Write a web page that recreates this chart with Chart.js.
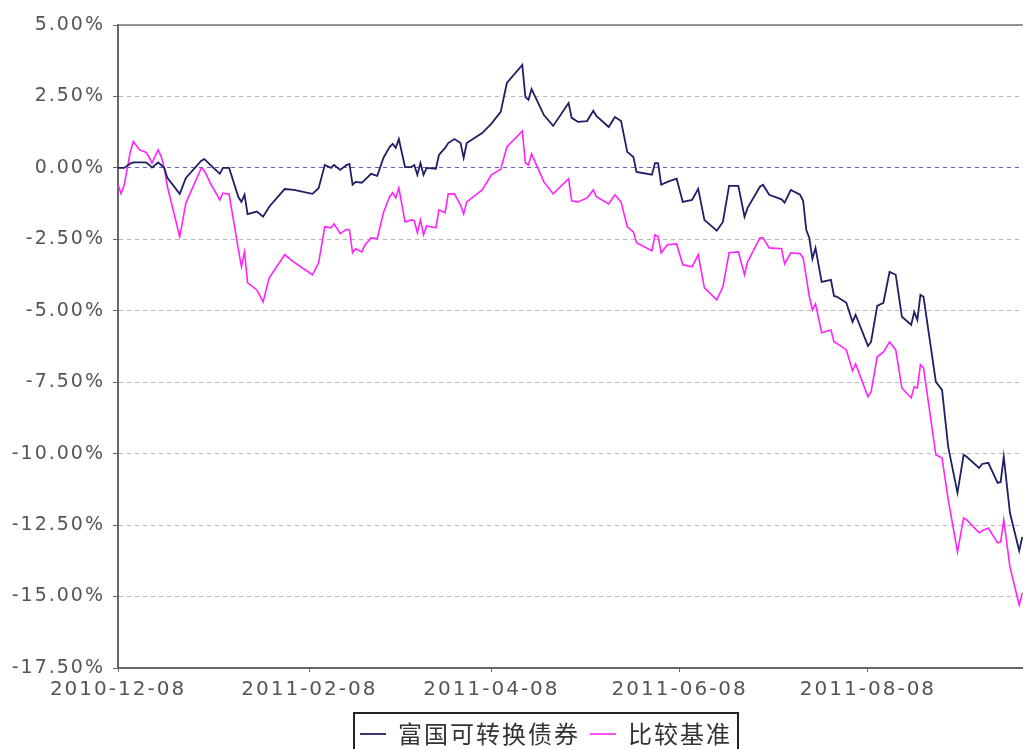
<!DOCTYPE html>
<html>
<head>
<meta charset="utf-8">
<script src="https://cdn.jsdelivr.net/npm/chart.js@4.4.0/dist/chart.umd.min.js"></script>
<style>
  html, body { margin: 0; padding: 0; overflow: hidden; background: #fff; }
  #wrap { width: 1090px; height: 760px; }
</style>
</head>
<body>
<div id="wrap"><canvas id="chart" width="1090" height="760"></canvas></div>
<script>
const seriesNames = ["富国可转换债券", "比较基准"];
const dates = [
  "2010-12-08","2010-12-09","2010-12-10","2010-12-12","2010-12-13","2010-12-15","2010-12-17","2010-12-18","2010-12-19","2010-12-21",
  "2010-12-22","2010-12-23","2010-12-24","2010-12-28","2010-12-30","2011-01-04","2011-01-05","2011-01-07","2011-01-10","2011-01-11",
  "2011-01-13","2011-01-16","2011-01-17","2011-01-18","2011-01-19","2011-01-22","2011-01-24","2011-01-26","2011-01-31","2011-02-03",
  "2011-02-09","2011-02-11","2011-02-13","2011-02-15","2011-02-16","2011-02-18","2011-02-20","2011-02-21","2011-02-22","2011-02-23",
  "2011-02-25","2011-02-26","2011-02-28","2011-03-02","2011-03-04","2011-03-06","2011-03-07","2011-03-08","2011-03-09","2011-03-11",
  "2011-03-13","2011-03-14","2011-03-15","2011-03-16","2011-03-17","2011-03-18","2011-03-21","2011-03-22","2011-03-24","2011-03-25",
  "2011-03-27","2011-03-29","2011-03-30","2011-03-31","2011-04-05","2011-04-08","2011-04-11","2011-04-13","2011-04-18","2011-04-19",
  "2011-04-20","2011-04-21","2011-04-25","2011-04-28","2011-05-03","2011-05-04","2011-05-06","2011-05-09","2011-05-11","2011-05-12",
  "2011-05-16","2011-05-18","2011-05-20","2011-05-22","2011-05-24","2011-05-25","2011-05-30","2011-05-31","2011-06-01","2011-06-02",
  "2011-06-04","2011-06-07","2011-06-09","2011-06-12","2011-06-14","2011-06-16","2011-06-20","2011-06-22","2011-06-24","2011-06-27",
  "2011-06-29","2011-06-30","2011-07-04","2011-07-05","2011-07-07","2011-07-11","2011-07-12","2011-07-14","2011-07-17","2011-07-18",
  "2011-07-19","2011-07-20","2011-07-21","2011-07-22","2011-07-24","2011-07-27","2011-07-28","2011-07-29","2011-08-01","2011-08-03",
  "2011-08-04","2011-08-08","2011-08-09","2011-08-11","2011-08-13","2011-08-15","2011-08-17","2011-08-19","2011-08-22","2011-08-23",
  "2011-08-24","2011-08-25","2011-08-26","2011-08-30","2011-09-01","2011-09-03","2011-09-06","2011-09-08","2011-09-09","2011-09-13",
  "2011-09-14","2011-09-16","2011-09-19","2011-09-20","2011-09-21","2011-09-23","2011-09-26","2011-09-27"
];
const fundReturn = [
  0.00, 0.00, 0.00, 0.15, 0.19, 0.19, 0.19, 0.12, 0.01, 0.19,
  0.10, 0.00, -0.35, -0.91, -0.35, 0.25, 0.31, 0.10, -0.21, 0.00,
  0.00, -1.02, -1.19, -0.94, -1.62, -1.53, -1.71, -1.36, -0.74, -0.77,
  -0.91, -0.71, 0.10, 0.00, 0.10, -0.07, 0.10, 0.14, -0.59, -0.49,
  -0.52, -0.42, -0.21, -0.28, 0.35, 0.73, 0.84, 0.70, 1.01, 0.03,
  0.03, 0.10, -0.24, 0.17, -0.24, 0.00, -0.03, 0.45, 0.70, 0.87,
  1.01, 0.87, 0.35, 0.87, 1.22, 1.55, 1.96, 2.97, 3.60, 2.48,
  2.38, 2.76, 1.85, 1.47, 2.27, 1.75, 1.61, 1.64, 2.00, 1.82,
  1.43, 1.78, 1.64, 0.56, 0.38, -0.14, -0.24, 0.17, 0.17, -0.59,
  -0.49, -0.38, -1.19, -1.12, -0.73, -1.82, -2.20, -1.89, -0.63, -0.63,
  -1.71, -1.40, -0.66, -0.59, -0.94, -1.10, -1.22, -0.77, -0.94, -1.15,
  -2.17, -2.45, -3.18, -2.80, -3.99, -3.92, -4.48, -4.51, -4.72, -5.39,
  -5.14, -6.23, -6.09, -4.83, -4.72, -3.64, -3.74, -5.21, -5.49, -5.04,
  -5.32, -4.44, -4.51, -7.49, -7.77, -9.76, -11.37, -10.04, -10.11, -10.50,
  -10.36, -10.32, -11.02, -10.99, -10.11, -12.07, -13.40, -12.91
];
const benchmarkReturn = [
  -0.60, -0.90, -0.60, 0.57, 0.92, 0.63, 0.55, 0.40, 0.17, 0.63,
  0.40, 0.00, -0.65, -2.41, -1.23, 0.00, -0.10, -0.55, -1.12, -0.88,
  -0.92, -2.85, -3.46, -2.94, -4.02, -4.27, -4.69, -3.85, -3.04, -3.30,
  -3.74, -3.32, -2.06, -2.10, -1.96, -2.30, -2.15, -2.17, -2.97, -2.83,
  -2.94, -2.70, -2.45, -2.48, -1.57, -1.01, -0.87, -1.05, -0.70, -1.89,
  -1.82, -1.85, -2.27, -1.82, -2.34, -2.03, -2.10, -1.47, -1.57, -0.91,
  -0.91, -1.30, -1.61, -1.19, -0.77, -0.24, -0.05, 0.73, 1.29, 0.17,
  0.10, 0.49, -0.49, -0.91, -0.38, -1.15, -1.19, -1.05, -0.77, -1.01,
  -1.26, -0.94, -1.19, -2.06, -2.24, -2.62, -2.90, -2.34, -2.40, -2.97,
  -2.69, -2.66, -3.39, -3.46, -3.04, -4.20, -4.62, -4.16, -2.97, -2.94,
  -3.74, -3.29, -2.45, -2.45, -2.80, -2.83, -3.36, -2.97, -3.00, -3.15,
  -3.81, -4.51, -4.97, -4.76, -5.77, -5.67, -6.09, -6.15, -6.37, -7.10,
  -6.86, -8.01, -7.84, -6.61, -6.45, -6.09, -6.37, -7.70, -8.05, -7.66,
  -7.70, -6.89, -7.00, -10.04, -10.15, -11.60, -13.44, -12.25, -12.32, -12.77,
  -12.70, -12.60, -13.12, -13.09, -12.32, -13.96, -15.29, -14.87
];
const xTickDates = ["2010-12-08", "2011-02-08", "2011-04-08", "2011-06-08", "2011-08-08"];
// the original image is cropped on the right; the axis runs on past the window edge
const xEndDate = "2011-10-17";
const yTicks = [5, 2.5, 0, -2.5, -5, -7.5, -10, -12.5, -15, -17.5];

const DAY = 86400000;
const t0 = Date.parse(dates[0]);
const dayOf = (d) => Math.round((Date.parse(d) - t0) / DAY);

// canvas letter spacing to mimic the wide, stretched text of the original
const spacing = {
  id: "spacing",
  beforeLayout(chart) { chart.ctx.letterSpacing = "2px"; },
  beforeDraw(chart) { chart.ctx.letterSpacing = "2px"; }
};

// top frame line + box round the legend
const frame = {
  id: "frame",
  beforeDatasetsDraw(chart) {
    const { ctx, chartArea: a } = chart;
    ctx.save();
    ctx.strokeStyle = "#777";
    ctx.lineWidth = 1.5;
    ctx.beginPath();
    ctx.moveTo(a.left, a.top);
    ctx.lineTo(a.right, a.top);
    ctx.lineTo(a.right, a.bottom);
    ctx.stroke();
    ctx.restore();
  },
  afterDraw(chart) {
    const lg = chart.legend;
    const hb = lg.legendHitBoxes;
    if (!hb || !hb.length) return;
    const last = hb[hb.length - 1];
    const left = hb[0].left - 6;
    const right = last.left + last.width + 6;
    const ctx = chart.ctx;
    ctx.save();
    ctx.strokeStyle = "#222";
    ctx.lineWidth = 2;
    ctx.strokeRect(left, lg.top + 1, right - left, 60);
    ctx.restore();
  }
};

Chart.defaults.font.family = "'DejaVu Sans', sans-serif";
Chart.defaults.color = "#555";

new Chart(document.getElementById("chart"), {
  type: "line",
  data: {
    datasets: [
      {
        label: seriesNames[0],
        data: dates.map((d, i) => ({ x: dayOf(d), y: fundReturn[i] })),
        borderColor: "#1f1f66",
        backgroundColor: "#1f1f66",
        borderWidth: 1.8,
        pointRadius: 0,
        tension: 0
      },
      {
        label: seriesNames[1],
        data: dates.map((d, i) => ({ x: dayOf(d), y: benchmarkReturn[i] })),
        borderColor: "#ff22ff",
        backgroundColor: "#ff22ff",
        borderWidth: 1.6,
        pointRadius: 0,
        tension: 0
      }
    ]
  },
  options: {
    responsive: false,
    animation: false,
    events: [],
    layout: { padding: { left: 8, right: 6, top: 25, bottom: 4 } },
    scales: {
      x: {
        type: "linear",
        min: 0,
        max: dayOf(xEndDate),
        afterBuildTicks: (s) => { s.ticks = xTickDates.map((d) => ({ value: dayOf(d) })); },
        afterFit: (s) => { s.height = 44; },
        ticks: {
          autoSkip: false,
          maxRotation: 0,
          padding: 6,
          font: { size: 20 },
          color: "#555",
          callback: (v) => xTickDates.find((d) => dayOf(d) === v) || ""
        },
        grid: { drawOnChartArea: false, drawTicks: true, tickLength: 4, tickColor: "#666" },
        border: { display: true, color: "#666", width: 2 }
      },
      y: {
        min: -17.5,
        max: 5,
        afterBuildTicks: (s) => { s.ticks = yTicks.map((v) => ({ value: v })); },
        afterFit: (s) => { s.width = 110; },
        ticks: {
          padding: 8,
          font: { size: 19 },
          color: "#555",
          callback: (v) => v.toFixed(2) + "%"
        },
        grid: {
          drawTicks: true,
          tickLength: 5,
          lineWidth: 1,
          color: (c) => (c.tick && c.tick.value === 0 ? "#6464c0" : "#b8b8b8"),
          tickColor: "#666"
        },
        border: { display: true, color: "#666", width: 2, dash: [4, 4] }
      }
    },
    plugins: {
      legend: {
        position: "bottom",
        labels: {
          usePointStyle: true,
          pointStyle: "line",
          pointStyleWidth: 26,
          padding: 10,
          color: "#333",
          font: { family: "'Noto Sans CJK SC', sans-serif", size: 24 }
        }
      },
      tooltip: { enabled: false }
    }
  },
  plugins: [spacing, frame]
});
</script>
</body>
</html>
